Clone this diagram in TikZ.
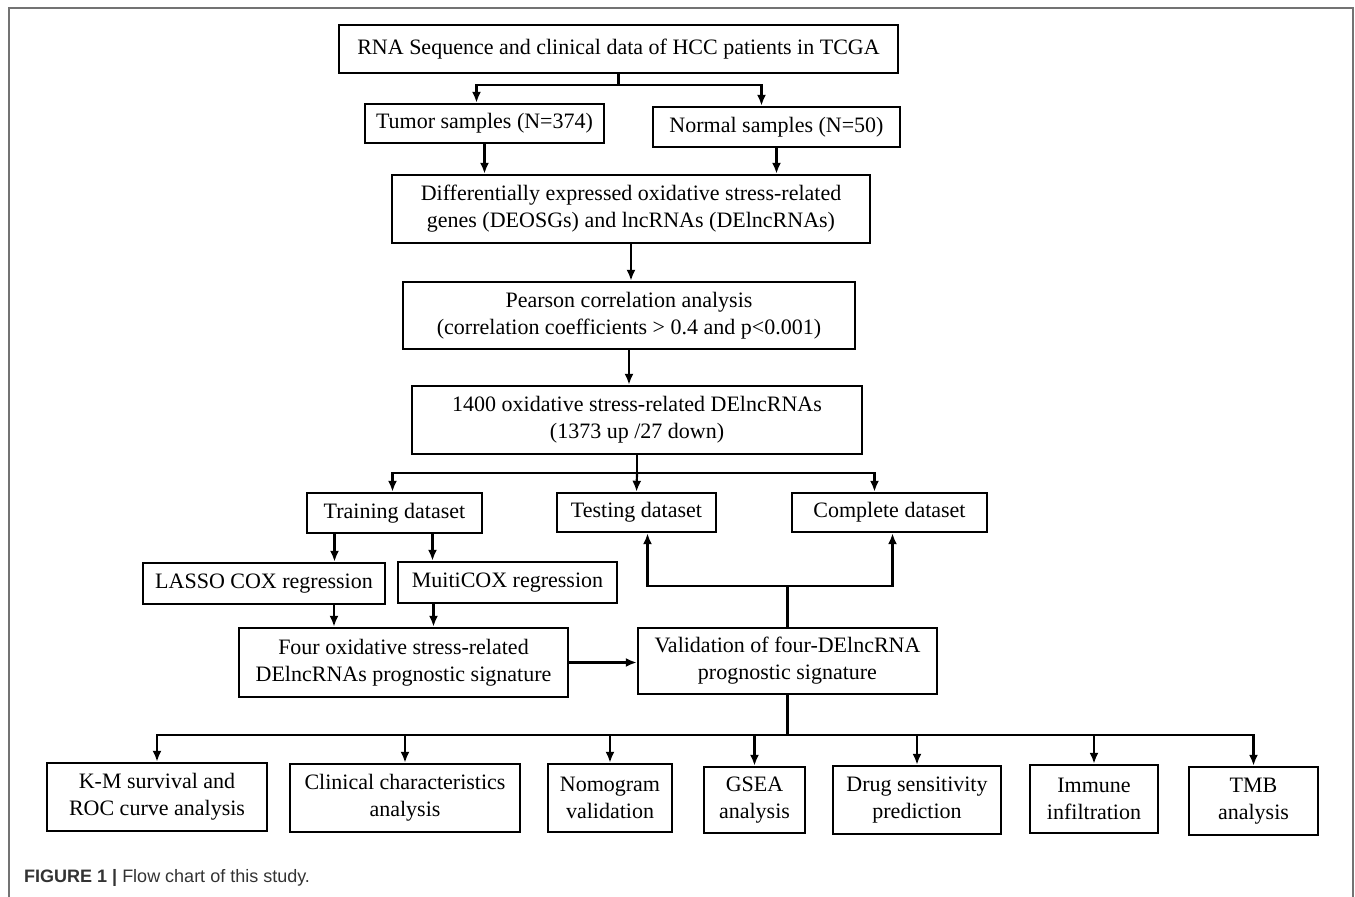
\documentclass[tikz,border=0pt]{standalone}
\usepackage{fontspec}
\setmainfont{Liberation Serif}
\setsansfont{Liberation Sans}
\usetikzlibrary{arrows.meta,positioning,calc}

\begin{document}
\begin{tikzpicture}[x=1pt, y=-1pt, font=\fontsize{22}{27}\selectfont, >={Latex[length=11pt,width=9pt]}]
\tikzstyle{box}=[draw, line width=2.4pt, inner sep=0pt, align=center]
\tikzstyle{arr}=[->, line width=2.2pt]
\tikzstyle{wire}=[line width=2.2pt]
\useasboundingbox (0,0) rectangle (1355,897);
\draw[line width=1.5pt, black!55] (9,897) -- (9,8) -- (1353,8) -- (1353,897);
% data and grouping
\node[box, minimum width=559, minimum height=48] (rna) at (618.5,49) {RNA Sequence and clinical data of HCC patients in TCGA};
\node[box, minimum width=239, minimum height=39] (tumor) at (484.5,123.5) {Tumor samples (N=374)};
\node[box, minimum width=247, minimum height=40] (normal) at (776.5,127) {Normal samples (N=50)};
\node[box, minimum width=478, minimum height=68] (deg) at (631,209) {Differentially expressed oxidative stress-related\\genes (DEOSGs) and lncRNAs (DElncRNAs)};
\node[box, minimum width=452, minimum height=67] (pear) at (629,315.5) {Pearson correlation analysis\\(correlation coefficients > 0.4 and p<0.001)};
\node[box, minimum width=450, minimum height=68] (lnc) at (637,420) {1400 oxidative stress-related DElncRNAs\\(1373 up /27 down)};
% datasets
\node[box, minimum width=175, minimum height=40] (train) at (394.5,513) {Training dataset};
\node[box, minimum width=159, minimum height=39] (test) at (636.5,512.5) {Testing dataset};
\node[box, minimum width=195, minimum height=39] (comp) at (889.5,512.5) {Complete dataset};
\node[box, minimum width=242, minimum height=41] (lasso) at (264,583.5) {LASSO COX regression};
\node[box, minimum width=219, minimum height=41] (multi) at (507.5,582.5) {MuitiCOX regression};
\node[box, minimum width=329, minimum height=69] (four) at (403.5,662.5) {Four oxidative stress-related\\DElncRNAs prognostic signature};
\node[box, minimum width=299, minimum height=66] (valid) at (787.5,661) {Validation of four-DElncRNA\\prognostic signature};
% analyses
\node[box, minimum width=220, minimum height=68] (km) at (157,797) {K-M survival and\\ROC curve analysis};
\node[box, minimum width=230, minimum height=68] (clin) at (405,798) {Clinical characteristics\\analysis};
\node[box, minimum width=124, minimum height=68] (nomo) at (610,798) {Nomogram\\validation};
\node[box, minimum width=101, minimum height=66] (gsea) at (754.5,800) {GSEA\\analysis};
\node[box, minimum width=168, minimum height=68] (drug) at (917,800) {Drug sensitivity\\prediction};
\node[box, minimum width=128, minimum height=68] (immu) at (1094,799) {Immune\\infiltration};
\node[box, minimum width=129, minimum height=68] (tmb) at (1253.5,801) {TMB\\analysis};
\node[anchor=base west, inner sep=0pt, text=black!80, font=\sffamily\fontsize{18}{21}\selectfont] (cap) at (24,882) {\textbf{FIGURE 1 |} Flow chart of this study.};
% connectors
\draw[wire] (rna.south) -- ++(0,11) coordinate (j1);
\draw[arr] (j1) -| ([xshift=-8]tumor.north);
\draw[arr] (j1) -| ([xshift=-15]normal.north);
\draw[arr] (tumor.south) -- (tumor.south |- deg.north);
\draw[arr] (normal.south) -- (normal.south |- deg.north);
\draw[arr] (deg.south) -- (deg.south |- pear.north);
\draw[arr] (pear.south) -- (pear.south |- lnc.north);
\draw[wire] (lnc.south) -- ++(0,18) coordinate (j2);
\draw[arr] (j2) -| ([xshift=-2]train.north);
\draw[arr] (j2) -- (test.north);
\draw[arr] (j2) -| ([xshift=-15]comp.north);
\draw[arr] ([xshift=-60]train.south) -- ([xshift=-60]train.south |- lasso.north);
\draw[arr] ([xshift=38]train.south) -- ([xshift=38]train.south |- multi.north);
\draw[arr] ([xshift=70]lasso.south) -- ([xshift=70]lasso.south |- four.north);
\draw[arr] ([xshift=-74]multi.south) -- ([xshift=-74]multi.south |- four.north);
\draw[arr] (four.east) -- (four.east -| valid.west);
\draw[wire] (valid.north) -- ++(0,-41) coordinate (j3);
\draw[arr] (j3) -| ([xshift=11]test.south);
\draw[arr] (j3) -| ([xshift=3]comp.south);
\draw[wire] (valid.south) -- ++(0,40) coordinate (j4);
\foreach \b in {km,clin,nomo,gsea,drug,immu,tmb}
  \draw[arr] (j4) -| (\b.north);
\end{tikzpicture}
\end{document}
